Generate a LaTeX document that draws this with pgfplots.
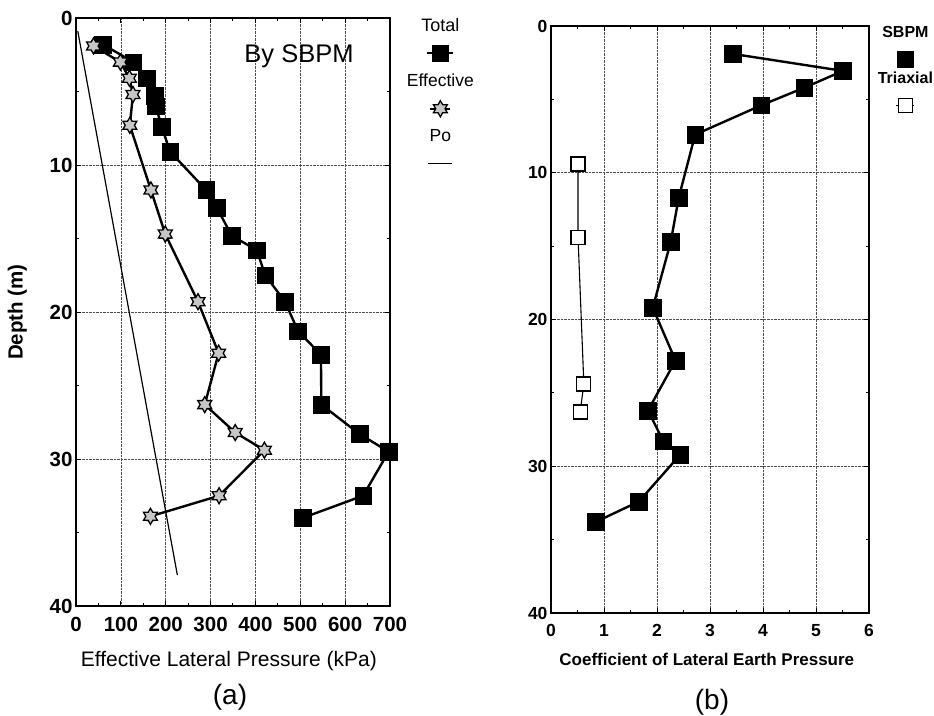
\documentclass[border=0pt]{standalone}
\usepackage{pgfplots}
\pgfplotsset{compat=1.18}
\usepackage{fontspec}
\setmainfont{Liberation Sans}
\setsansfont{Liberation Sans}

\pgfdeclareplotmark{hexstar}{%
  \pgfpathmoveto{\pgfpointpolar{90}{\pgfplotmarksize}}%
  \pgfpathlineto{\pgfpointpolar{120}{0.58\pgfplotmarksize}}%
  \pgfpathlineto{\pgfpointpolar{150}{\pgfplotmarksize}}%
  \pgfpathlineto{\pgfpointpolar{180}{0.58\pgfplotmarksize}}%
  \pgfpathlineto{\pgfpointpolar{210}{\pgfplotmarksize}}%
  \pgfpathlineto{\pgfpointpolar{240}{0.58\pgfplotmarksize}}%
  \pgfpathlineto{\pgfpointpolar{270}{\pgfplotmarksize}}%
  \pgfpathlineto{\pgfpointpolar{300}{0.58\pgfplotmarksize}}%
  \pgfpathlineto{\pgfpointpolar{330}{\pgfplotmarksize}}%
  \pgfpathlineto{\pgfpointpolar{0}{0.58\pgfplotmarksize}}%
  \pgfpathlineto{\pgfpointpolar{30}{\pgfplotmarksize}}%
  \pgfpathlineto{\pgfpointpolar{60}{0.58\pgfplotmarksize}}%
  \pgfpathclose
  \pgfusepathqfillstroke
}

\pgfplotsset{
  depthaxis/.style={
    scale only axis,
    y dir=reverse,
    ymin=0, ymax=40, ytick={0,10,20,30,40},
    minor x tick num=1, minor y tick num=1,
    tick align=inside, major tick length=5pt, minor tick length=3pt,
    grid=major, grid style={densely dotted, black!70, line width=0.7pt},
    axis line style={line width=1.6pt},
    tick style={line width=1pt, black},
    /pgf/number format/assume math mode=true,
    legend style={draw=none, fill=none, anchor=north, row sep=12.5pt,
      inner sep=0pt, nodes={inner sep=0pt}},
    legend cell align=center,
  },
  legabove/.style n args={3}{
    legend image code/.code={
      \node[font=#2, anchor=base] at (12pt,22pt) {#1};
      \draw[mark repeat=2, mark phase=2, ##1] plot coordinates {(12pt-#3,0pt)(12pt,0pt)(12pt+#3,0pt)};
    }
  },
  leglineabove/.style n args={2}{
    legend image code/.code={
      \node[font=#2, anchor=base] at (12pt,22pt) {#1};
      \draw[##1] (0pt,0pt) -- (24pt,0pt);
    }
  },
}

\begin{document}
\begin{tikzpicture}[x=1pt,y=1pt]
\path[use as bounding box] (0,0) rectangle (934,715);

% ---------------- panel (a)
\begin{axis}[depthaxis,
  at={(76pt,109pt)}, anchor=south west,
  width=314pt, height=588pt,
  xmin=0, xmax=700, xtick={0,100,...,700},
  ticklabel style={font=\fontsize{20.5}{21}\selectfont\bfseries},
  xticklabel style={yshift=-8pt},
  xlabel={Effective Lateral Pressure (kPa)},
  xlabel style={font=\fontsize{21}{21}\selectfont, inner sep=0pt,
    at={(axis description cs:0.487,0)}, anchor=north, yshift=-45pt},
  ylabel={Depth (m)},
  ylabel style={font=\fontsize{20.5}{21}\selectfont\bfseries, inner sep=0pt,
    at={(axis description cs:-0.156,0.5)}, anchor=south},
  legend style={at={(axis description cs:1.162,1.0)}},
]
\addplot[black, line width=2.4pt, mark=square*, mark size=8.3pt,
  mark options={solid, fill=black, line width=0.5pt},
  legabove={Total}{\fontsize{18}{18}\selectfont}{13pt}] coordinates {
  (60,1.8) (128,3.0) (158,4.1) (176,5.3) (178,6.0) (191,7.4) (210,9.1)
  (290,11.7) (314,12.9) (347,14.8) (403,15.8) (422,17.5) (466,19.3)
  (495,21.3) (546,22.9) (547,26.3) (632,28.3) (697,29.5) (640,32.5) (506,34.0)
};
\addlegendentry{}
\addplot[black, line width=2.4pt, mark=hexstar, mark size=8pt,
  mark options={solid, fill=black!22, line width=1.3pt},
  legabove={Effective}{\fontsize{17.5}{18}\selectfont}{10pt}] coordinates {
  (39,1.9) (99,3.0) (119,4.1) (127,5.2) (120,7.3) (167,11.7) (199,14.7)
  (272,19.3) (318,22.8) (287,26.3) (355,28.2) (420,29.4) (319,32.5) (166,33.9)
};
\addlegendentry{}
\addplot[black, line width=1.2pt, no markers,
  leglineabove={Po}{\fontsize{17.5}{18}\selectfont}] coordinates {
  (4,0.9) (226,37.9)
};
\addlegendentry{}
\end{axis}

% ---------------- panel (b)
\begin{axis}[depthaxis,
  at={(551pt,102pt)}, anchor=south west,
  width=318pt, height=587pt,
  xmin=0, xmax=6, xtick={0,1,...,6},
  ticklabel style={font=\fontsize{17.5}{18}\selectfont\bfseries},
  xticklabel style={yshift=-8pt},
  xlabel={Coefficient of Lateral Earth Pressure},
  xlabel style={font=\fontsize{17}{18}\selectfont\bfseries, inner sep=0pt,
    at={(axis description cs:0.49,0)}, anchor=north, yshift=-40pt},
  legend style={at={(axis description cs:1.116,1.0)}, row sep=4pt},
]
\addplot[black, line width=2.4pt, mark=square*, mark size=8.3pt,
  mark options={solid, fill=black, line width=0.5pt},
  legabove={SBPM}{\fontsize{16}{16}\selectfont\bfseries}{6pt}] coordinates {
  (3.43,1.9) (5.51,3.06) (4.78,4.2) (3.97,5.4) (2.72,7.4) (2.41,11.7)
  (2.26,14.7) (1.92,19.2) (2.35,22.8) (1.83,26.2) (2.12,28.3) (2.44,29.2)
  (1.66,32.4) (0.84,33.8)
};
\addlegendentry{}
\addplot[black, line width=1.1pt, mark=square*, mark size=7pt,
  mark options={solid, fill=white, line width=1.2pt},
  legabove={Triaxial}{\fontsize{16}{16}\selectfont\bfseries}{9pt}] coordinates {
  (0.51,9.4) (0.51,14.4) (0.62,24.4) (0.55,26.3)
};
\addlegendentry{}
\end{axis}

\node[font=\fontsize{25.5}{26}\selectfont] at (299,659) {By SBPM};
\node[font=\fontsize{28}{28}\selectfont] at (230,18) {(a)};
\node[font=\fontsize{28}{28}\selectfont] at (712,13) {(b)};
\end{tikzpicture}
\end{document}
